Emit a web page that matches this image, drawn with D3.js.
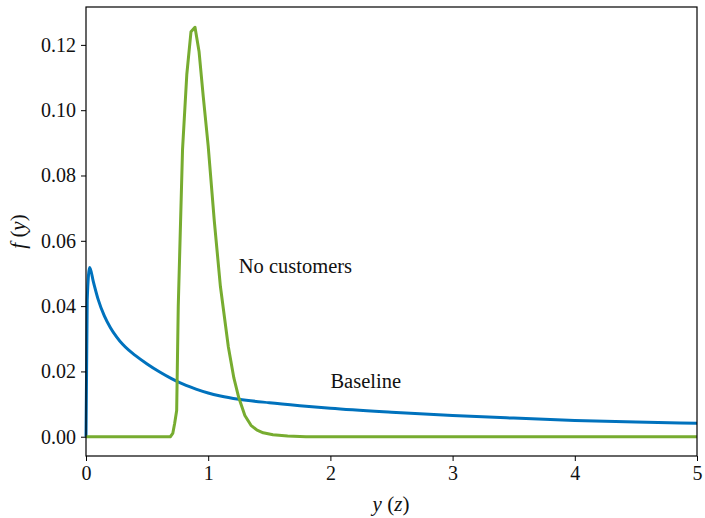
<!DOCTYPE html>
<html>
<head>
<meta charset="utf-8">
<script src="https://cdn.jsdelivr.net/npm/d3@7"></script>
<style>
  body { margin: 0; background: #fff; }
  svg { display: block; }
  text { font-family: "Liberation Serif", "DejaVu Serif", serif; fill: #111; }
</style>
</head>
<body>
<svg id="chart" width="705" height="518"></svg>
<script>
// ---- data ----
const baselineX = [0, 0.01, 0.03, 0.06, 0.1, 0.15, 0.2, 0.25, 0.3, 0.35, 0.4, 0.5, 0.6, 0.7, 0.8, 0.9, 1.0, 1.1, 1.25, 1.5, 1.75, 2.0, 2.5, 3.0, 3.5, 4.0, 4.5, 5.0];
const baselineY = [0, 0.042, 0.0518, 0.0475, 0.042, 0.037, 0.0334, 0.0306, 0.0283, 0.0265, 0.025, 0.0223, 0.0199, 0.0178, 0.016, 0.0146, 0.0134, 0.0125, 0.0115, 0.0104, 0.0095, 0.0087, 0.0075, 0.0065, 0.0057, 0.005, 0.0045, 0.0041];

const noCustX = [0, 0.69, 0.71, 0.725, 0.742, 0.755, 0.79, 0.825, 0.859, 0.892, 0.925, 0.96, 1.0, 1.05, 1.1, 1.165, 1.21, 1.25, 1.3, 1.35, 1.4, 1.45, 1.53, 1.65, 1.8, 5.0];
const noCustY = [0, 0, 0.001, 0.004, 0.008, 0.04, 0.088, 0.111, 0.124, 0.1254, 0.118, 0.104, 0.089, 0.066, 0.046, 0.0275, 0.018, 0.012, 0.0065, 0.0035, 0.002, 0.0012, 0.0006, 0.0002, 0, 0];

const xTicks = [0, 1, 2, 3, 4, 5];
const yTicks = [0, 0.02, 0.04, 0.06, 0.08, 0.10, 0.12];

const labels = [
  { text: "No customers", x: 1.25, y: 0.05 },
  { text: "Baseline", x: 2.0, y: 0.015 }
];

// ---- layout ----
const W = 705, H = 518;
const m = { left: 86, right: 8, top: 7, bottom: 62 };
const svg = d3.select("#chart");

const x = d3.scaleLinear().domain([0, 5]).range([m.left, W - m.right]);
const y = d3.scaleLinear().domain([-0.0059, 0.1316]).range([H - m.bottom, m.top]);

const g = svg.append("g");

const lineSmooth = d3.line().x(d => x(d[0])).y(d => y(d[1])).curve(d3.curveMonotoneX);
const lineLin = d3.line().x(d => x(d[0])).y(d => y(d[1]));

g.append("path")
  .datum(baselineX.map((v, i) => [v, baselineY[i]]))
  .attr("d", lineSmooth)
  .attr("fill", "none")
  .attr("stroke", "#0072BD")
  .attr("stroke-width", 3)
  .attr("stroke-linejoin", "round");

g.append("path")
  .datum(noCustX.map((v, i) => [v, noCustY[i]]))
  .attr("d", lineLin)
  .attr("fill", "none")
  .attr("stroke", "#77AC30")
  .attr("stroke-width", 3)
  .attr("stroke-linejoin", "round");

// frame
svg.append("rect")
  .attr("x", m.left).attr("y", m.top)
  .attr("width", W - m.left - m.right)
  .attr("height", H - m.top - m.bottom)
  .attr("fill", "none").attr("stroke", "#000").attr("stroke-width", 1.2);

// axes
const xAxis = d3.axisBottom(x).tickValues(xTicks).tickFormat(d3.format("d")).tickSize(5).tickPadding(5);
const yAxis = d3.axisLeft(y).tickValues(yTicks).tickFormat(d3.format(".2f")).tickSize(5).tickPadding(5);

const gx = svg.append("g").attr("transform", `translate(0,${H - m.bottom})`).call(xAxis);
const gy = svg.append("g").attr("transform", `translate(${m.left},0)`).call(yAxis);
[gx, gy].forEach(a => {
  a.select(".domain").remove();
  a.selectAll(".tick line").attr("stroke", "#000").attr("stroke-width", 1);
  a.selectAll(".tick text").style("font-family", "'Liberation Serif', serif").style("font-size", "20px").attr("fill", "#111");
});

// axis labels
svg.append("text")
  .attr("x", 391).attr("y", 511)
  .attr("text-anchor", "middle")
  .style("font-size", "21px")
  .html('<tspan font-style="italic">y</tspan> (<tspan font-style="italic">z</tspan>)');

svg.append("text")
  .attr("transform", `translate(25,${(m.top + H - m.bottom) / 2}) rotate(-90)`)
  .attr("text-anchor", "middle")
  .style("font-size", "21px")
  .html('<tspan font-style="italic">f</tspan> (<tspan font-style="italic">y</tspan>)');

// annotations
svg.selectAll("text.ann").data(labels).enter().append("text")
  .attr("class", "ann")
  .attr("x", d => x(d.x)).attr("y", d => y(d.y))
  .style("font-size", "20.5px")
  .text(d => d.text);
</script>
</body>
</html>
